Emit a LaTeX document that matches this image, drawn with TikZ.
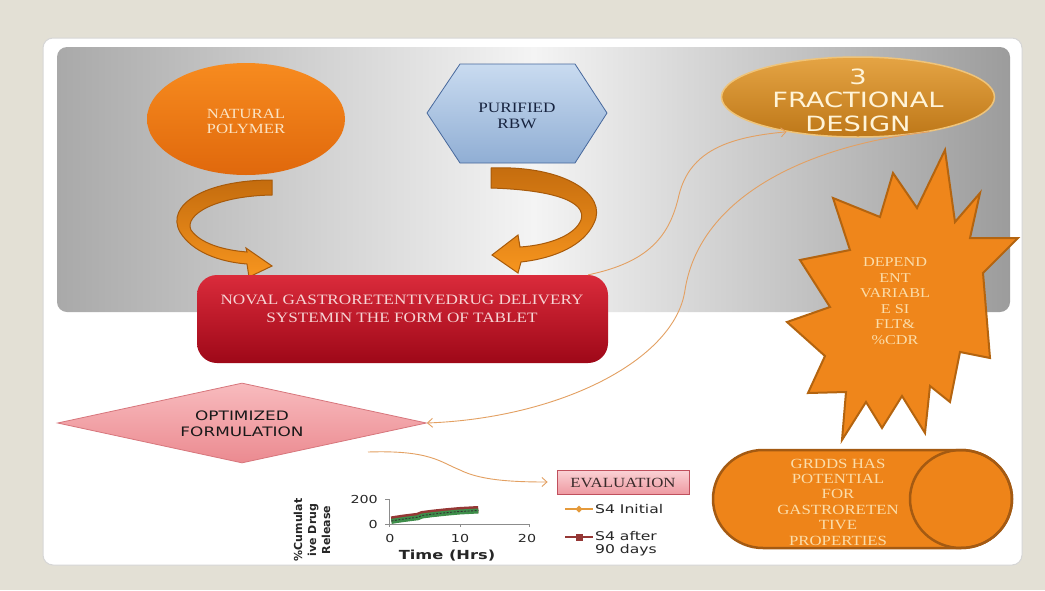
\documentclass[tikz,border=0pt]{standalone}
\usepackage{fontspec}
\setmainfont{Liberation Serif}
\newfontfamily\wserif[FakeStretch=1.2]{Liberation Serif}
\newfontfamily\wsans[FakeStretch=1.3]{DejaVu Sans}
\newfontfamily\nsans{DejaVu Sans}
\usetikzlibrary{shapes.geometric,arrows.meta}
\definecolor{bgbeige}{HTML}{E3E0D5}
\definecolor{cardline}{HTML}{D6D6D6}
\definecolor{panelL}{HTML}{A9A9A9}
\definecolor{panelM}{HTML}{F4F4F4}
\definecolor{panelR}{HTML}{9C9C9C}
\definecolor{npTop}{HTML}{F78B1F}
\definecolor{npBot}{HTML}{E0680C}
\definecolor{nptext}{HTML}{FBE3C2}
\definecolor{hexTop}{HTML}{C9DBF0}
\definecolor{hexBot}{HTML}{90AED4}
\definecolor{hexLine}{HTML}{47689C}
\definecolor{hextext}{HTML}{17233F}
\definecolor{fracTop}{HTML}{E5A444}
\definecolor{fracBot}{HTML}{BD7718}
\definecolor{fracLine}{HTML}{EFC47A}
\definecolor{fractext}{HTML}{FFF4D8}
\definecolor{ndsTop}{HTML}{DA2B3B}
\definecolor{ndsBot}{HTML}{9E0818}
\definecolor{ndstext}{HTML}{F6D5D5}
\definecolor{arrTop}{HTML}{C46C0E}
\definecolor{arrBot}{HTML}{F7951E}
\definecolor{arrLine}{HTML}{A85A0A}
\definecolor{optTop}{HTML}{F8BBBE}
\definecolor{optBot}{HTML}{EB8A90}
\definecolor{optLine}{HTML}{D7767C}
\definecolor{evTop}{HTML}{FAD2D5}
\definecolor{evBot}{HTML}{EE9AA2}
\definecolor{evLine}{HTML}{C0505D}
\definecolor{evtext}{HTML}{3A2B2B}
\definecolor{starFill}{HTML}{EF861B}
\definecolor{starLine}{HTML}{B4640F}
\definecolor{startext}{HTML}{FBDDAA}
\definecolor{cylFill}{HTML}{EE8419}
\definecolor{cylLine}{HTML}{A45A12}
\definecolor{connc}{HTML}{E3A062}
\definecolor{axisc}{HTML}{8C8C8C}
\definecolor{charttext}{HTML}{262626}
\definecolor{sInit}{HTML}{E59A3B}
\definecolor{sAfter}{HTML}{953735}
\definecolor{sGreen}{HTML}{3E8E4A}
\begin{document}
\begin{tikzpicture}[x=1pt,y=-1pt,
  conn/.style={draw=connc, line width=0.9pt, -{Straight Barb[length=5pt,width=9pt]}},
  lbl/.style={inner sep=0pt, align=center},
  blockarrow/.style={top color=arrTop, bottom color=arrBot, draw=arrLine, line width=1pt},
  ticklbl/.style={inner sep=0pt, font=\wsans\fontsize{11}{12}\selectfont, text=charttext},
]
\useasboundingbox (0,0) rectangle (1045,590);
\fill[bgbeige] (0,0) rectangle (1045,590);
% card
\draw[cardline, fill=white, rounded corners=10pt, line width=1pt] (43,38) rectangle (1022,565);
% gray panel
\shade[rounded corners=10pt, left color=panelL, right color=panelR, middle color=panelM] (57,47) rectangle (1010,312);

% natural polymer
\node[ellipse, minimum width=198pt, minimum height=112pt, inner sep=0pt, top color=npTop, bottom color=npBot] (np) at (246,119) {};
\node[lbl, text=nptext, font=\wserif\fontsize{14}{15}\selectfont] (nptxt) at (246,121) {NATURAL\\POLYMER};

% hexagon
\shadedraw[top color=hexTop, bottom color=hexBot, draw=hexLine, line width=0.8pt]
  (427,113) -- (460,64) -- (575,64) -- (607,113) -- (575,163) -- (460,163) -- cycle;
\node[lbl, text=hextext, font=\wserif\fontsize{14.3}{16}\selectfont] (rbw) at (517,116) {PURIFIED\\RBW};

% fractional design
\node[ellipse, minimum width=273pt, minimum height=80pt, inner sep=0pt, top color=fracTop, bottom color=fracBot, draw=fracLine, line width=1.5pt] (frac) at (858,97) {};
\node[lbl, text=fractext, font=\wsans\fontsize{21}{23.5}\selectfont] (fractxt) at (858,100) {3\\FRACTIONAL\\DESIGN};

% curved block arrows
\shadedraw[blockarrow]
  (272,180) .. controls (205,180) and (165,205) .. (180,232)
  .. controls (192,252) and (220,262) .. (247,264)
  -- (249,277) -- (272,266) -- (246,248) -- (247,252)
  .. controls (222,250) and (200,243) .. (191,230)
  .. controls (184,215) and (215,196) .. (272,195) -- cycle;
\shadedraw[blockarrow]
  (491,168) .. controls (565,165) and (608,195) .. (594,223)
  .. controls (584,245) and (556,258) .. (521,262)
  -- (518,273) -- (492,255) -- (518,235) -- (520,247)
  .. controls (550,245) and (575,235) .. (581,220)
  .. controls (587,202) and (555,190) .. (491,188) -- cycle;

% red box
\node[rectangle, rounded corners=20pt, minimum width=411pt, minimum height=88pt, inner sep=0pt, top color=ndsTop, bottom color=ndsBot] (nds) at (402.5,319) {};
\node[lbl, text=ndstext, font=\wserif\fontsize{14.3}{18}\selectfont] (ndstxt) at (402,309) {NOVAL GASTRORETENTIVEDRUG DELIVERY\\SYSTEMIN THE FORM OF TABLET};

% starburst
\filldraw[fill=starFill, draw=starLine, line width=2pt, line join=miter]
  (945,150) -- (955,222) -- (980,193) -- (970,238) -- (1018,238) -- (983,273)
  -- (990,358) -- (960,352) -- (950,402) -- (930,386) -- (925,433) -- (902,396)
  -- (882,428) -- (866,402) -- (842,440) -- (846,392) -- (808,393) -- (825,356)
  -- (787,322) -- (830,307) -- (800,260) -- (850,250) -- (833,198) -- (880,217)
  -- (893,173) -- (917,208) -- cycle;
\node[lbl, text=startext, font=\wserif\fontsize{13.5}{15.5}\selectfont] (dep) at (895,301) {DEPEND\\ENT\\VARIABL\\E SI\\FLT\&\\\%CDR};

% cylinder
\filldraw[fill=cylFill, draw=cylLine, line width=2.5pt]
  (763,450) arc[start angle=90, end angle=270, x radius=50pt, y radius=49pt]
  -- (961,548) arc[start angle=-90, end angle=90, x radius=51pt, y radius=49pt] -- cycle;
\draw[cylLine, line width=2.5pt] (961,499) ellipse[x radius=51pt, y radius=49pt];
\node[lbl, text=startext, font=\wserif\fontsize{14}{15.4}\selectfont] (grd) at (838,502) {GRDDS HAS\\POTENTIAL\\FOR\\GASTRORETEN\\TIVE\\PROPERTIES};

% optimized formulation
\node[diamond, minimum width=369pt, minimum height=80pt, inner sep=0pt, top color=optTop, bottom color=optBot, draw=optLine, line width=0.8pt] (opt) at (242,423) {};
\node[lbl, text=black!90, font=\wsans\fontsize{13}{16}\selectfont] (opttxt) at (242,424) {OPTIMIZED\\FORMULATION};

% evaluation
\node[rectangle, minimum width=132pt, minimum height=24pt, inner sep=0pt, top color=evTop, bottom color=evBot, draw=evLine, line width=0.8pt] (eval) at (623,482) {};
\node[lbl, text=evtext, font=\wserif\fontsize{14}{16}\selectfont] (evtxt) at (623,483) {EVALUATION};

% connectors
\coordinate (c3s) at (368,452);
\draw[conn] ([xshift=-20pt]nds.north east) .. controls (650,262) and (670,235) .. (679,195)
  .. controls (690,150) and (730,137) .. (frac.206);
\draw[conn] (frac.334) .. controls (810,145) and (700,195) .. (685,290)
  .. controls (675,360) and (560,418) .. (opt.east);
\draw[conn] (c3s) .. controls (430,450) and (440,462) .. (460,470)
  .. controls (480,480) and (510,482) .. ([xshift=-9pt]eval.west);

% chart
\draw[axisc, line width=0.8pt] (389,499) -- (389,524) -- (529,524);
\draw[axisc, line width=0.8pt] (385,499) -- (389,499) (385,524) -- (389,524)
  (460,524) -- (460,527) (529,524) -- (529,527) (389,524) -- (389,527);
\node[ticklbl, anchor=east] (y200) at (378,499) {200};
\node[ticklbl, anchor=east] (y0) at (378,524) {0};
\node[ticklbl] (x0) at (390,538) {0};
\node[ticklbl] (x10) at (460,538) {10};
\node[ticklbl] (x20) at (527,538) {20};
\node[lbl, text=charttext, font=\wsans\bfseries\fontsize{12.5}{14}\selectfont] (xlab) at (447,556) {Time (Hrs)};
\node[lbl, rotate=90, text=charttext, font=\nsans\bfseries\fontsize{11}{14}\selectfont] (ylab) at (312,530) {\%Cumulat\\ive Drug\\Release};
\draw[sAfter, line width=7pt, line join=round] plot coordinates {(391.4,519.9) (396.95,519) (403.9,518) (410.85,517.1) (417.8,516.25) (422,514.5) (431.7,513.25) (445.6,511.75) (459.5,510.5) (473.4,509.75) (478.3,509.5)};
\draw[sGreen, line width=5pt, line join=round] plot coordinates {(391.4,521.4) (396.95,520.5) (403.9,519.5) (410.85,518.6) (417.8,517.75) (422,516) (431.7,514.75) (445.6,513.25) (459.5,512) (473.4,511.25) (478.3,511)};
\draw[black!80, line width=0.9pt, dash pattern=on 2pt off 1.5pt] plot coordinates {(391.4,521) (396.95,520) (403.9,519) (410.85,518.1) (417.8,517.25) (422,515.5) (431.7,514.25) (445.6,512.75) (459.5,511.5) (473.4,510.75) (478.3,510.5)};
% legend
\draw[sInit, line width=1.6pt] (565,509) -- (593,509);
\fill[sInit] (579,505.5) -- (582.5,509) -- (579,512.5) -- (575.5,509) -- cycle;
\node[ticklbl, anchor=west, font=\wsans\fontsize{12}{13}\selectfont] (leg1) at (595,509) {S4 Initial};
\draw[sAfter, line width=1.6pt] (565,537) -- (593,537);
\fill[sAfter] (575.5,533.5) rectangle (582.5,540.5);
\node[ticklbl, anchor=north west, align=left, font=\wsans\fontsize{12}{13.5}\selectfont] (leg2) at (595,531) {S4 after\\ 90 days};
\end{tikzpicture}
\end{document}
